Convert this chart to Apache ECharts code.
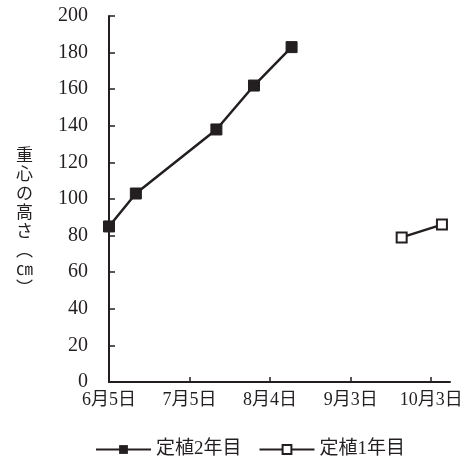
<!DOCTYPE html>
<html>
<head>
<meta charset="utf-8">
<script src="https://cdn.jsdelivr.net/npm/echarts/dist/echarts.min.js"></script>
<style>
  html, body { margin: 0; padding: 0; background: #fff; }
  #chart { width: 474px; height: 468px; }
</style>
</head>
<body>
<div id="chart"></div>
<script>
// Measurement dates (month/day) and height of centre of gravity (cm)
const dates2 = ['6/5', '6/15', '7/15', '7/29', '8/12'];
const values2 = [85, 103, 138, 162, 183];
const dates1 = ['9/22', '10/7'];
const values1 = [79, 86];

const seriesNames = ['定植2年目', '定植1年目'];
const tickDays = [0, 30, 60, 90, 120];
const tickLabels = ['6月5日', '7月5日', '8月4日', '9月3日', '10月3日'];
const yAxisTitle = ['重', '心', 'の', '高', 'さ', '︵', '㎝', '︶'];

// Days elapsed since 5 June
function dayOffset(md) {
  const [m, d] = md.split('/').map(Number);
  return Math.round((Date.UTC(2001, m - 1, d) - Date.UTC(2001, 5, 5)) / 86400000);
}
const toPoints = (ds, vs) => ds.map((d, i) => [dayOffset(d), vs[i]]);

const ink = '#231f20';
const serif = "Liberation Serif, Noto Sans CJK JP, serif";

const chart = echarts.init(document.getElementById('chart'), null, { renderer: 'canvas' });
chart.setOption({
  animation: false,
  backgroundColor: '#fff',
  grid: { left: 109, right: 24, top: 16, bottom: 86, containLabel: false },
  xAxis: {
    type: 'value',
    min: 0,
    max: 127,
    interval: 30,
    splitLine: { show: false },
    axisLine: { lineStyle: { color: ink, width: 2 } },
    axisTick: {
      inside: true, length: 5, customValues: tickDays,
      lineStyle: { color: ink, width: 1.5 }
    },
    axisLabel: {
      customValues: tickDays,
      margin: 9,
      color: ink,
      fontFamily: serif,
      fontSize: 18,
      formatter: v => tickLabels[tickDays.indexOf(v)] || ''
    }
  },
  yAxis: {
    type: 'value',
    min: 0,
    max: 200,
    interval: 20,
    splitLine: { show: false },
    axisLine: { show: true, lineStyle: { color: ink, width: 2 } },
    axisTick: { show: true, inside: true, length: 6, lineStyle: { color: ink, width: 1.5 } },
    axisLabel: { margin: 21, color: ink, fontFamily: serif, fontSize: 20 }
  },
  legend: {
    bottom: 4,
    left: 90,
    itemWidth: 55,
    itemHeight: 11,
    itemGap: 17,
    textStyle: { color: ink, fontFamily: serif, fontSize: 19 },
    data: seriesNames
  },
  graphic: [{
    type: 'text',
    left: 16,
    top: 145,
    style: {
      text: yAxisTitle.join('\n'),
      fill: ink,
      font: "17px 'Noto Sans CJK JP', sans-serif",
      lineHeight: 19,
      align: 'center'
    }
  }],
  series: [
    {
      name: seriesNames[0],
      type: 'line',
      data: toPoints(dates2, values2),
      symbol: 'rect',
      symbolSize: 11,
      itemStyle: { color: ink, borderColor: ink },
      lineStyle: { color: ink, width: 2.5 }
    },
    {
      name: seriesNames[1],
      type: 'line',
      data: toPoints(dates1, values1),
      symbol: 'rect',
      symbolSize: 10,
      itemStyle: { color: '#fff', borderColor: ink, borderWidth: 2 },
      lineStyle: { color: ink, width: 2.5 }
    }
  ]
});
</script>
</body>
</html>
